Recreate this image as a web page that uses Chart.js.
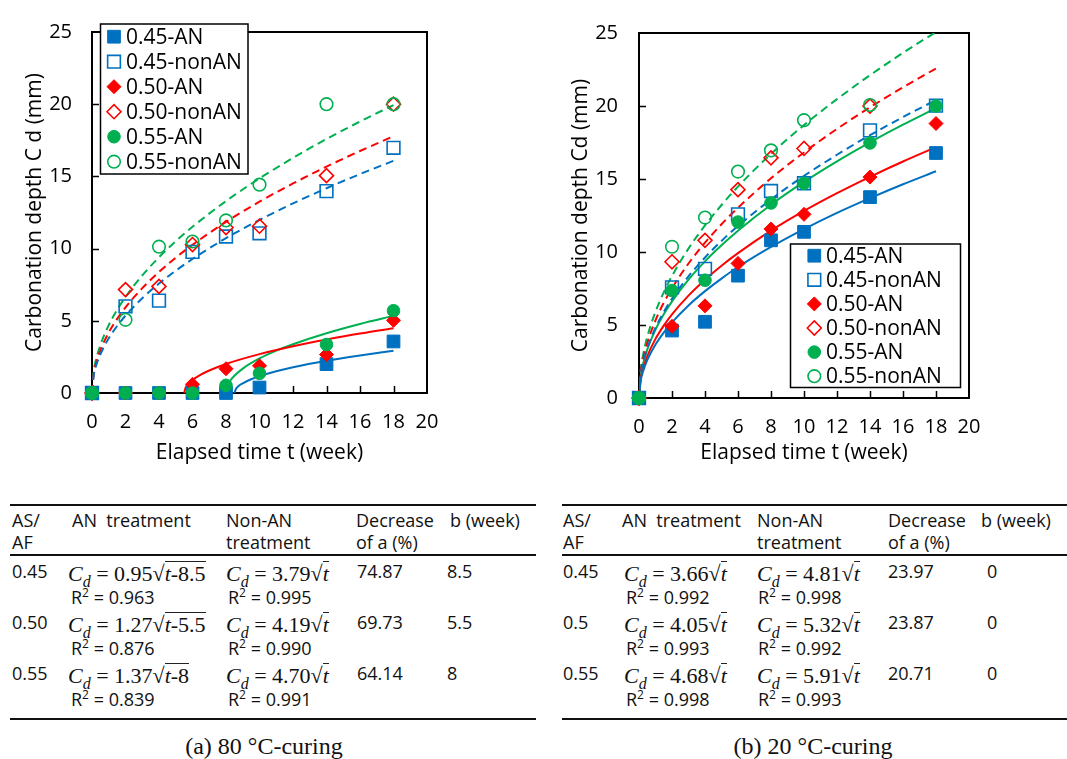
<!DOCTYPE html>
<html><head><meta charset="utf-8">
<script src="https://cdn.jsdelivr.net/npm/chart.js@4.4.0/dist/chart.umd.min.js"></script>
<style>
html,body{margin:0;padding:0;background:#fff;}
body{width:1067px;height:759px;position:relative;overflow:hidden;font-family:'Open Sans',sans-serif;color:#111;}
canvas{position:absolute;top:0;}
.tx{position:absolute;white-space:pre;font-size:18px;line-height:20px;}
.tx sup{font-size:12px;line-height:0;vertical-align:7px;}
.fm{position:absolute;white-space:pre;font-family:'Liberation Serif','Times New Roman',serif;font-size:22px;line-height:20px;}
.fm sub{font-size:16px;line-height:0;vertical-align:-6px;}
.fm .ov{position:relative;}
.fm .ov::before{content:'';position:absolute;left:0;right:0;top:0px;border-top:1px solid #222;}
.rule{position:absolute;background:#111;}
.cap{position:absolute;font-family:'Liberation Serif','Times New Roman',serif;font-size:24px;line-height:26px;white-space:pre;transform:translateX(-50%);}
</style></head><body>
<canvas id="c80" width="540" height="470" style="left:0"></canvas>
<canvas id="c20" width="527" height="470" style="left:540px"></canvas>
<div id="tables"></div>
<script>
// ---------------- data ----------------
const weeks = [0, 2, 4, 6, 8, 10, 14, 18];
const seriesNames = ['0.45-AN', '0.45-nonAN', '0.50-AN', '0.50-nonAN', '0.55-AN', '0.55-nonAN'];
const xTicks = [0, 2, 4, 6, 8, 10, 12, 14, 16, 18, 20];
const yTicks = [0, 5, 10, 15, 20, 25];

// (a) 80 °C-curing, measured points
const a80_045AN  = [0, 0, 0, 0, 0, 0.38, 2.0, 3.57];
const a80_045non = [0, 6.0, 6.4, 9.77, 10.84, 11.06, 13.98, 16.98];
const a80_050AN  = [0, 0, 0, 0.6, 1.68, 1.88, 2.66, 5.03];
const a80_050non = [0, 7.16, 7.38, 10.28, 11.46, 11.55, 15.05, 20.0];
const a80_055AN  = [0, 0, 0, 0, 0.53, 1.36, 3.36, 5.7];
const a80_055non = [0, 5.07, 10.13, 10.49, 11.95, 14.43, 20.0, 20.0];

// (b) 20 °C-curing, measured points
const b20_045AN  = [0, 4.62, 5.22, 8.38, 10.8, 11.38, 13.76, 16.78];
const b20_045non = [0, 7.58, 8.85, 12.58, 14.18, 14.71, 18.33, 20.02];
const b20_050AN  = [0, 4.91, 6.31, 9.22, 11.58, 12.58, 15.13, 18.8];
const b20_050non = [0, 9.33, 10.8, 14.27, 16.45, 17.09, 20.0, null];
const b20_055AN  = [0, 7.36, 8.07, 12.05, 13.36, 14.71, 17.47, 20.0];
const b20_055non = [0, 10.36, 12.36, 15.51, 16.96, 19.03, 20.07, null];

// fitted curves
const fitT = [0, 0.1, 0.25, 0.5, 1, 1.5, 2, 3, 4, 5, 6, 8, 10, 12, 14, 16, 18];
const fit80_045non = [0, 1.20, 1.90, 2.68, 3.79, 4.64, 5.36, 6.56, 7.58, 8.47, 9.28, 10.72, 11.98, 13.13, 14.18, 15.16, 16.08];
const fit80_050non = [0, 1.32, 2.10, 2.96, 4.19, 5.13, 5.93, 7.26, 8.38, 9.37, 10.26, 11.85, 13.25, 14.51, 15.68, 16.76, 17.78];
const fit80_055non = [0, 1.49, 2.35, 3.32, 4.70, 5.76, 6.65, 8.14, 9.40, 10.51, 11.51, 13.29, 14.86, 16.28, 17.59, 18.80, 19.94];
const fit80_045AN_t = [8.5, 8.6, 8.75, 9, 9.5, 10, 11, 12, 14, 16, 18];
const fit80_045AN   = [0, 0.30, 0.48, 0.67, 0.95, 1.16, 1.50, 1.78, 2.23, 2.60, 2.93];
const fit80_050AN_t = [5.5, 5.6, 5.75, 6, 6.5, 7, 8, 10, 12, 14, 16, 18];
const fit80_050AN   = [0, 0.40, 0.64, 0.90, 1.27, 1.56, 2.01, 2.69, 3.24, 3.70, 4.12, 4.49];
const fit80_055AN_t = [8, 8.1, 8.25, 8.5, 9, 10, 11, 12, 14, 16, 18];
const fit80_055AN   = [0, 0.53, 0.85, 1.19, 1.69, 2.39, 2.93, 3.38, 4.14, 4.78, 5.34];

const fit20_045AN  = [0, 1.16, 1.83, 2.59, 3.66, 4.48, 5.18, 6.34, 7.32, 8.18, 8.97, 10.35, 11.57, 12.68, 13.69, 14.64, 15.53];
const fit20_050AN  = [0, 1.28, 2.03, 2.86, 4.05, 4.96, 5.73, 7.01, 8.10, 9.06, 9.92, 11.46, 12.81, 14.03, 15.15, 16.20, 17.18];
const fit20_055AN  = [0, 1.48, 2.34, 3.31, 4.68, 5.73, 6.62, 8.11, 9.36, 10.46, 11.46, 13.24, 14.80, 16.21, 17.51, 18.72, 19.86];
const fit20_045non = [0, 1.52, 2.41, 3.40, 4.81, 5.89, 6.80, 8.33, 9.62, 10.76, 11.78, 13.60, 15.21, 16.66, 18.00, 19.24, 20.41];
const fit20_050non = [0, 1.68, 2.66, 3.76, 5.32, 6.52, 7.52, 9.21, 10.64, 11.90, 13.03, 15.05, 16.82, 18.43, 19.91, 21.28, 22.57];
const fit20_055non = [0, 1.87, 2.96, 4.18, 5.91, 7.24, 8.36, 10.24, 11.82, 13.22, 14.48, 16.72, 18.69, 20.47, 22.11, 23.64, 25.07];

// table contents
const tblHead1 = ['AS/', 'AN  treatment', 'Non-AN', 'Decrease', 'b (week)'];
const tblHead2 = ['AF', '', 'treatment', 'of a (%)', ''];
const tA_ratio   = ['0.45', '0.50', '0.55'];
const tA_anCoef  = ['0.95', '1.27', '1.37'];
const tA_anShift = ['8.5', '5.5', '8'];
const tA_anR2    = ['0.963', '0.876', '0.839'];
const tA_nonCoef = ['3.79', '4.19', '4.70'];
const tA_nonR2   = ['0.995', '0.990', '0.991'];
const tA_decr    = ['74.87', '69.73', '64.14'];
const tA_b       = ['8.5', '5.5', '8'];
const tB_ratio   = ['0.45', '0.5', '0.55'];
const tB_anCoef  = ['3.66', '4.05', '4.68'];
const tB_anR2    = ['0.992', '0.993', '0.998'];
const tB_nonCoef = ['4.81', '5.32', '5.91'];
const tB_nonR2   = ['0.998', '0.992', '0.993'];
const tB_decr    = ['23.97', '23.87', '20.71'];
const tB_b       = ['0', '0', '0'];
const captionA = '(a) 80 °C-curing';
const captionB = '(b) 20 °C-curing';

// ---------------- styles ----------------
const COLORS = ['#0070C0', '#0070C0', '#FF0000', '#FF0000', '#00B050', '#00B050'];
const SHAPES = ['rect', 'rect', 'rectRot', 'rectRot', 'circle', 'circle'];
const FILLED = [true, false, true, false, true, false];
const RADII  = [9, 9, 7, 7, 6.3, 6.3];
const FONT = "'Open Sans', sans-serif";

function pts(xs, ys) {
  const out = [];
  xs.forEach((x, i) => { if (ys[i] !== null && ys[i] !== undefined) out.push({x: x, y: ys[i]}); });
  return out;
}

function drawMarker(ctx, i, x, y) {
  const r = RADII[i];
  ctx.save();
  ctx.beginPath();
  if (SHAPES[i] === 'rect') { const s = r * Math.SQRT1_2; ctx.rect(x - s, y - s, 2 * s, 2 * s); }
  else if (SHAPES[i] === 'rectRot') { ctx.moveTo(x - r, y); ctx.lineTo(x, y - r); ctx.lineTo(x + r, y); ctx.lineTo(x, y + r); ctx.closePath(); }
  else { ctx.arc(x, y, r, 0, Math.PI * 2); }
  if (FILLED[i]) { ctx.fillStyle = COLORS[i]; ctx.fill(); ctx.lineWidth = 1; }
  else { ctx.lineWidth = 1.6; }
  ctx.strokeStyle = COLORS[i];
  ctx.stroke();
  ctx.restore();
}

const framePlugin = {
  id: 'frameLegend',
  beforeDatasetsDraw(chart) {
    const {ctx, chartArea: a, scales: {x, y}} = chart;
    ctx.save();
    ctx.strokeStyle = '#000';
    ctx.lineWidth = 2;
    ctx.strokeRect(a.left, a.top, a.right - a.left, a.bottom - a.top);
    ctx.lineWidth = 1.5;
    ctx.beginPath();
    xTicks.forEach(v => { if (v > 0 && v < 20) { const px = Math.round(x.getPixelForValue(v)) + 0.5; ctx.moveTo(px, a.bottom); ctx.lineTo(px, a.bottom - 7); } });
    yTicks.forEach(v => { if (v > 0 && v < 25) { const py = Math.round(y.getPixelForValue(v)) + 0.5; ctx.moveTo(a.left, py); ctx.lineTo(a.left + 7, py); } });
    ctx.stroke();
    ctx.restore();
  },
  afterDatasetsDraw(chart, args, o) {
    const ctx = chart.ctx;
    ctx.save();
    ctx.fillStyle = '#fff';
    ctx.fillRect(o.x, o.y, o.w, o.h);
    ctx.strokeStyle = '#000';
    ctx.lineWidth = 1.5;
    ctx.strokeRect(o.x, o.y, o.w, o.h);
    ctx.font = '21px ' + FONT;
    ctx.textBaseline = 'middle';
    seriesNames.forEach((n, i) => {
      const cy = o.row0 + i * o.step;
      drawMarker(ctx, i, o.mx, cy);
      ctx.fillStyle = '#000';
      ctx.fillText(n, o.tx, cy + 1);
    });
    ctx.restore();
  }
};

function makeChart(id, L) {
  const datasets = [];
  L.markers.forEach((ys, i) => {
    datasets.push({
      label: seriesNames[i], data: pts(weeks, ys), showLine: false,
      pointStyle: SHAPES[i], pointRadius: RADII[i], pointHoverRadius: RADII[i],
      pointBackgroundColor: FILLED[i] ? COLORS[i] : 'rgba(0,0,0,0)',
      pointBorderColor: COLORS[i], pointBorderWidth: FILLED[i] ? 1 : 1.6,
      clip: false, order: 10 - i
    });
  });
  L.fits.forEach((f, k) => {
    datasets.push({
      label: seriesNames[f.s] + ' fit', data: pts(f.t, f.y), showLine: true,
      borderColor: COLORS[f.s], borderWidth: 2, borderDash: f.dash ? [8, 5] : [],
      pointRadius: 0, pointHoverRadius: 0, cubicInterpolationMode: 'monotone', fill: false,
      order: 30 + k
    });
  });
  const tickFont = {family: FONT, size: 20};
  const titleFont = {family: FONT, size: 21};
  return new Chart(document.getElementById(id), {
    type: 'scatter',
    data: {datasets},
    options: {
      responsive: false, animation: false, devicePixelRatio: 1, events: [],
      layout: {padding: {left: 0, top: L.padTop, right: L.padRight, bottom: 0}},
      plugins: {legend: {display: false}, tooltip: {enabled: false}, frameLegend: L.legend},
      scales: {
        x: {
          type: 'linear', min: 0, max: 20,
          afterBuildTicks: s => { s.ticks = xTicks.map(v => ({value: v})); },
          ticks: {padding: L.xLabPad, color: '#000', font: tickFont, maxRotation: 0, autoSkip: false},
          grid: {display: false, drawTicks: false},
          border: {display: false},
          title: {display: true, text: 'Elapsed time t (week)', color: '#000', font: titleFont, padding: {top: 0, bottom: L.xTitlePad}},
          afterFit: s => { s.height = L.xHeight; }
        },
        y: {
          type: 'linear', min: 0, max: 25,
          afterBuildTicks: s => { s.ticks = yTicks.map(v => ({value: v})); },
          ticks: {padding: L.yLabPad, color: '#000', font: tickFont},
          grid: {display: false, drawTicks: false},
          border: {display: false},
          title: {display: true, text: L.yTitle, color: '#000', font: titleFont, padding: {top: L.yTitlePad, bottom: 0}},
          afterFit: s => { s.width = L.yWidth; }
        }
      }
    },
    plugins: [framePlugin]
  });
}

makeChart('c80', {
  padTop: 17, padRight: 113, yWidth: 92, xHeight: 77, xLabPad: 17, yLabPad: 20, xTitlePad: 4.4, yTitlePad: 22.4,
  yTitle: 'Carbonation depth C d (mm)',
  markers: [a80_045AN, a80_045non, a80_050AN, a80_050non, a80_055AN, a80_055non],
  fits: [
    {s: 1, t: fitT, y: fit80_045non, dash: true},
    {s: 3, t: fitT, y: fit80_050non, dash: true},
    {s: 5, t: fitT, y: fit80_055non, dash: true},
    {s: 0, t: fit80_045AN_t, y: fit80_045AN, dash: false},
    {s: 2, t: fit80_050AN_t, y: fit80_050AN, dash: false},
    {s: 4, t: fit80_055AN_t, y: fit80_055AN, dash: false}
  ],
  legend: {x: 100.5, y: 24, w: 147.5, h: 150, row0: 36.7, step: 25, mx: 114, tx: 126}
});

makeChart('c20', {
  padTop: 23, padRight: 98, yWidth: 99, xHeight: 72, xLabPad: 17, yLabPad: 21, xTitlePad: 4.4, yTitlePad: 28.4,
  yTitle: 'Carbonation depth Cd (mm)',
  markers: [b20_045AN, b20_045non, b20_050AN, b20_050non, b20_055AN, b20_055non],
  fits: [
    {s: 1, t: fitT, y: fit20_045non, dash: true},
    {s: 3, t: fitT, y: fit20_050non, dash: true},
    {s: 5, t: fitT, y: fit20_055non, dash: true},
    {s: 0, t: fitT, y: fit20_045AN, dash: false},
    {s: 2, t: fitT, y: fit20_050AN, dash: false},
    {s: 4, t: fitT, y: fit20_055AN, dash: false}
  ],
  legend: {x: 250.5, y: 244, w: 170, h: 143.5, row0: 255.7, step: 24.1, mx: 274.3, tx: 286}
});

// ---------------- tables ----------------
const root = document.getElementById('tables');
function put(html, x, yc, cls) {
  const d = document.createElement('div');
  d.className = cls; d.innerHTML = html;
  d.style.left = x + 'px'; d.style.top = (yc - 10.5) + 'px';
  root.appendChild(d);
}
function rule(x1, x2, y, h) {
  const d = document.createElement('div');
  d.className = 'rule';
  d.style.left = x1 + 'px'; d.style.width = (x2 - x1) + 'px';
  d.style.top = (y - h / 2) + 'px'; d.style.height = h + 'px';
  root.appendChild(d);
}
function formula(coef, shift) {
  return '<i>C</i><sub><i>d</i></sub> = ' + coef + '√<span class="ov"><i>t</i>' + (shift ? '-' + shift : '') + '</span>';
}
function r2(v) { return 'R<sup>2</sup> = ' + v; }
function caption(text, xc, yc) {
  const d = document.createElement('div');
  d.className = 'cap'; d.textContent = text;
  d.style.left = xc + 'px'; d.style.top = (yc - 13) + 'px';
  root.appendChild(d);
}

function buildTable(T) {
  rule(T.x1, T.x2, 505, 2.2);
  rule(T.x1, T.x2, 555, 2.6);
  rule(T.x1, T.x2, T.bottom, 2.6);
  tblHead1.forEach((h, i) => { if (h) put(h, T.hx[i], 520, 'tx'); });
  tblHead2.forEach((h, i) => { if (h) put(h, T.hx[i], 542, 'tx'); });
  T.ratio.forEach((r, k) => {
    const y1 = T.rows[k], y2 = y1 + T.sub;
    put(r, T.hx[0], y1, 'tx');
    put(formula(T.anCoef[k], T.anShift ? T.anShift[k] : ''), T.dx[0], y1 + 3, 'fm');
    put(r2(T.anR2[k]), T.dx[1], y2, 'tx');
    put(formula(T.nonCoef[k], ''), T.dx[2], y1 + 3, 'fm');
    put(r2(T.nonR2[k]), T.dx[3], y2, 'tx');
    put(T.decr[k], T.dx[4], y1, 'tx');
    put(T.b[k], T.dx[5], y1, 'tx');
  });
}

buildTable({x1: 10, x2: 536, bottom: 719, rows: [571, 622, 673], sub: 26,
  hx: [12, 72, 226, 356, 450], dx: [68, 71, 226, 228, 357, 447],
  ratio: tA_ratio, anCoef: tA_anCoef, anShift: tA_anShift, anR2: tA_anR2,
  nonCoef: tA_nonCoef, nonR2: tA_nonR2, decr: tA_decr, b: tA_b});
buildTable({x1: 562, x2: 1067, bottom: 719, rows: [571, 622, 673], sub: 26,
  hx: [563, 622, 757, 888, 981], dx: [624, 626, 757, 758, 888, 987],
  ratio: tB_ratio, anCoef: tB_anCoef, anShift: null, anR2: tB_anR2,
  nonCoef: tB_nonCoef, nonR2: tB_nonR2, decr: tB_decr, b: tB_b});
caption(captionA, 264, 746);
caption(captionB, 813, 746);
</script>
</body></html>
